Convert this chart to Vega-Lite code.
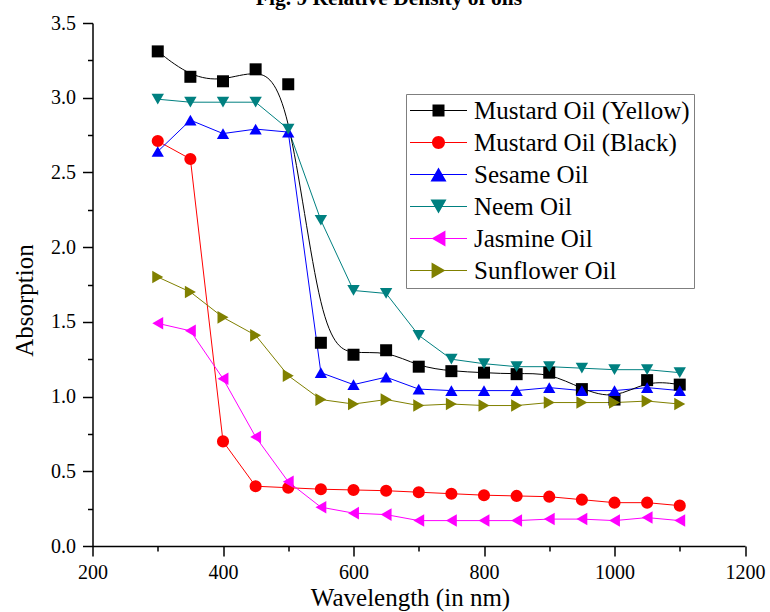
{
  "$schema": "https://vega.github.io/schema/vega-lite/v6.json",
  "width": 652.5,
  "height": 523,
  "autosize": {"type": "none"},
  "padding": {"left": 92.5, "top": 23, "right": 25, "bottom": 66},
  "background": "white",
  "title": {
    "text": "Fig. 9 Relative Density of oils",
    "font": "Liberation Serif",
    "fontSize": 21.5,
    "fontWeight": "bold",
    "color": "black",
    "anchor": "middle",
    "frame": "group",
    "dx": -29.75,
    "offset": 4
  },
  "config": {
    "view": {"stroke": null},
    "axis": {
      "domainColor": "black",
      "tickColor": "black",
      "labelColor": "black",
      "titleColor": "black",
      "labelFont": "Liberation Serif",
      "titleFont": "Liberation Serif",
      "labelFontSize": 20,
      "titleFontSize": 25,
      "titleFontWeight": "normal",
      "grid": false,
      "domainWidth": 1.5,
      "tickWidth": 1.5,
      "labelOverlap": false,
      "labelFlush": false
    },
    "legend": {
      "labelFont": "Liberation Serif",
      "labelFontSize": 25,
      "labelColor": "black",
      "labelLimit": 500,
      "padding": 4,
      "rowPadding": 6,
      "strokeColor": "#7f7f7f",
      "fillColor": "white",
      "symbolOffset": 16,
      "labelOffset": 23,
      "symbolSize": 400,
      "symbolOpacity": 1,
      "symbolStrokeWidth": 0
    }
  },
  "resolve": {"scale": {"color": "independent", "shape": "independent"}},
  "data": {
    "values": [
      {"wl": 300, "oil": "Mustard Oil (Yellow)", "v": 3.31},
      {"wl": 350, "oil": "Mustard Oil (Yellow)", "v": 3.14},
      {"wl": 400, "oil": "Mustard Oil (Yellow)", "v": 3.11},
      {"wl": 450, "oil": "Mustard Oil (Yellow)", "v": 3.19},
      {"wl": 500, "oil": "Mustard Oil (Yellow)", "v": 3.09},
      {"wl": 550, "oil": "Mustard Oil (Yellow)", "v": 1.36},
      {"wl": 600, "oil": "Mustard Oil (Yellow)", "v": 1.28},
      {"wl": 650, "oil": "Mustard Oil (Yellow)", "v": 1.31},
      {"wl": 700, "oil": "Mustard Oil (Yellow)", "v": 1.2},
      {"wl": 750, "oil": "Mustard Oil (Yellow)", "v": 1.17},
      {"wl": 800, "oil": "Mustard Oil (Yellow)", "v": 1.16},
      {"wl": 850, "oil": "Mustard Oil (Yellow)", "v": 1.15},
      {"wl": 900, "oil": "Mustard Oil (Yellow)", "v": 1.16},
      {"wl": 950, "oil": "Mustard Oil (Yellow)", "v": 1.05},
      {"wl": 1000, "oil": "Mustard Oil (Yellow)", "v": 0.98},
      {"wl": 1050, "oil": "Mustard Oil (Yellow)", "v": 1.11},
      {"wl": 1100, "oil": "Mustard Oil (Yellow)", "v": 1.08},

      {"wl": 300, "oil": "Mustard Oil (Black)", "v": 2.71},
      {"wl": 350, "oil": "Mustard Oil (Black)", "v": 2.59},
      {"wl": 400, "oil": "Mustard Oil (Black)", "v": 0.7},
      {"wl": 450, "oil": "Mustard Oil (Black)", "v": 0.4},
      {"wl": 500, "oil": "Mustard Oil (Black)", "v": 0.39},
      {"wl": 550, "oil": "Mustard Oil (Black)", "v": 0.38},
      {"wl": 600, "oil": "Mustard Oil (Black)", "v": 0.375},
      {"wl": 650, "oil": "Mustard Oil (Black)", "v": 0.37},
      {"wl": 700, "oil": "Mustard Oil (Black)", "v": 0.36},
      {"wl": 750, "oil": "Mustard Oil (Black)", "v": 0.35},
      {"wl": 800, "oil": "Mustard Oil (Black)", "v": 0.34},
      {"wl": 850, "oil": "Mustard Oil (Black)", "v": 0.335},
      {"wl": 900, "oil": "Mustard Oil (Black)", "v": 0.33},
      {"wl": 950, "oil": "Mustard Oil (Black)", "v": 0.31},
      {"wl": 1000, "oil": "Mustard Oil (Black)", "v": 0.29},
      {"wl": 1050, "oil": "Mustard Oil (Black)", "v": 0.29},
      {"wl": 1100, "oil": "Mustard Oil (Black)", "v": 0.27},

      {"wl": 300, "oil": "Sesame Oil", "v": 2.64},
      {"wl": 350, "oil": "Sesame Oil", "v": 2.85},
      {"wl": 400, "oil": "Sesame Oil", "v": 2.76},
      {"wl": 450, "oil": "Sesame Oil", "v": 2.79},
      {"wl": 500, "oil": "Sesame Oil", "v": 2.77},
      {"wl": 550, "oil": "Sesame Oil", "v": 1.16},
      {"wl": 600, "oil": "Sesame Oil", "v": 1.08},
      {"wl": 650, "oil": "Sesame Oil", "v": 1.13},
      {"wl": 700, "oil": "Sesame Oil", "v": 1.05},
      {"wl": 750, "oil": "Sesame Oil", "v": 1.04},
      {"wl": 800, "oil": "Sesame Oil", "v": 1.04},
      {"wl": 850, "oil": "Sesame Oil", "v": 1.04},
      {"wl": 900, "oil": "Sesame Oil", "v": 1.06},
      {"wl": 950, "oil": "Sesame Oil", "v": 1.04},
      {"wl": 1000, "oil": "Sesame Oil", "v": 1.04},
      {"wl": 1050, "oil": "Sesame Oil", "v": 1.06},
      {"wl": 1100, "oil": "Sesame Oil", "v": 1.04},

      {"wl": 300, "oil": "Neem Oil", "v": 2.99},
      {"wl": 350, "oil": "Neem Oil", "v": 2.97},
      {"wl": 400, "oil": "Neem Oil", "v": 2.97},
      {"wl": 450, "oil": "Neem Oil", "v": 2.97},
      {"wl": 500, "oil": "Neem Oil", "v": 2.79},
      {"wl": 550, "oil": "Neem Oil", "v": 2.18},
      {"wl": 600, "oil": "Neem Oil", "v": 1.71},
      {"wl": 650, "oil": "Neem Oil", "v": 1.69},
      {"wl": 700, "oil": "Neem Oil", "v": 1.41},
      {"wl": 750, "oil": "Neem Oil", "v": 1.25},
      {"wl": 800, "oil": "Neem Oil", "v": 1.22},
      {"wl": 850, "oil": "Neem Oil", "v": 1.2},
      {"wl": 900, "oil": "Neem Oil", "v": 1.2},
      {"wl": 950, "oil": "Neem Oil", "v": 1.19},
      {"wl": 1000, "oil": "Neem Oil", "v": 1.18},
      {"wl": 1050, "oil": "Neem Oil", "v": 1.18},
      {"wl": 1100, "oil": "Neem Oil", "v": 1.16},

      {"wl": 300, "oil": "Jasmine Oil", "v": 1.49},
      {"wl": 350, "oil": "Jasmine Oil", "v": 1.44},
      {"wl": 400, "oil": "Jasmine Oil", "v": 1.12},
      {"wl": 450, "oil": "Jasmine Oil", "v": 0.73},
      {"wl": 500, "oil": "Jasmine Oil", "v": 0.43},
      {"wl": 550, "oil": "Jasmine Oil", "v": 0.26},
      {"wl": 600, "oil": "Jasmine Oil", "v": 0.22},
      {"wl": 650, "oil": "Jasmine Oil", "v": 0.21},
      {"wl": 700, "oil": "Jasmine Oil", "v": 0.17},
      {"wl": 750, "oil": "Jasmine Oil", "v": 0.17},
      {"wl": 800, "oil": "Jasmine Oil", "v": 0.17},
      {"wl": 850, "oil": "Jasmine Oil", "v": 0.17},
      {"wl": 900, "oil": "Jasmine Oil", "v": 0.18},
      {"wl": 950, "oil": "Jasmine Oil", "v": 0.18},
      {"wl": 1000, "oil": "Jasmine Oil", "v": 0.17},
      {"wl": 1050, "oil": "Jasmine Oil", "v": 0.19},
      {"wl": 1100, "oil": "Jasmine Oil", "v": 0.17},

      {"wl": 300, "oil": "Sunflower Oil", "v": 1.8},
      {"wl": 350, "oil": "Sunflower Oil", "v": 1.7},
      {"wl": 400, "oil": "Sunflower Oil", "v": 1.53},
      {"wl": 450, "oil": "Sunflower Oil", "v": 1.41},
      {"wl": 500, "oil": "Sunflower Oil", "v": 1.14},
      {"wl": 550, "oil": "Sunflower Oil", "v": 0.98},
      {"wl": 600, "oil": "Sunflower Oil", "v": 0.95},
      {"wl": 650, "oil": "Sunflower Oil", "v": 0.98},
      {"wl": 700, "oil": "Sunflower Oil", "v": 0.94},
      {"wl": 750, "oil": "Sunflower Oil", "v": 0.95},
      {"wl": 800, "oil": "Sunflower Oil", "v": 0.94},
      {"wl": 850, "oil": "Sunflower Oil", "v": 0.94},
      {"wl": 900, "oil": "Sunflower Oil", "v": 0.96},
      {"wl": 950, "oil": "Sunflower Oil", "v": 0.96},
      {"wl": 1000, "oil": "Sunflower Oil", "v": 0.96},
      {"wl": 1050, "oil": "Sunflower Oil", "v": 0.97},
      {"wl": 1100, "oil": "Sunflower Oil", "v": 0.95}
    ]
  },
  "encoding": {
    "x": {
      "field": "wl",
      "type": "quantitative",
      "scale": {"domain": [200, 1200], "nice": false, "zero": false},
      "axis": {
        "title": "Wavelength (in nm)",
        "values": [200, 300, 400, 500, 600, 700, 800, 900, 1000, 1100, 1200],
        "format": "d",
        "labelExpr": "datum.value % 200 === 0 ? datum.label : ''",
        "tickSize": {"condition": {"test": "datum.value % 200 === 0", "value": 10}, "value": 5},
        "labelPadding": 6,
        "titleX": 317.5,
        "titleY": 59,
        "titleBaseline": "alphabetic",
        "titleAnchor": "middle"
      }
    },
    "y": {
      "field": "v",
      "type": "quantitative",
      "scale": {"domain": [0, 3.5], "nice": false, "zero": false},
      "axis": {
        "title": "Absorption",
        "values": [0, 0.25, 0.5, 0.75, 1, 1.25, 1.5, 1.75, 2, 2.25, 2.5, 2.75, 3, 3.25, 3.5],
        "format": ".1f",
        "labelExpr": "abs(datum.value * 2 - round(datum.value * 2)) < 0.001 ? datum.label : ''",
        "tickSize": {"condition": {"test": "abs(datum.value * 2 - round(datum.value * 2)) < 0.001", "value": 10}, "value": 5},
        "labelPadding": 7,
        "titleX": -60.5,
        "titleY": 277,
        "titleBaseline": "alphabetic",
        "titleAnchor": "middle"
      }
    }
  },
  "layer": [
    {
      "transform": [{"filter": "datum.oil !== 'Mustard Oil (Yellow)'"}],
      "mark": {"type": "line", "strokeWidth": 1, "interpolate": "linear"},
      "encoding": {
        "color": {
          "field": "oil",
          "type": "nominal",
          "scale": {
            "domain": ["Mustard Oil (Yellow)", "Mustard Oil (Black)", "Sesame Oil", "Neem Oil", "Jasmine Oil", "Sunflower Oil"],
            "range": ["#000000", "#ff0000", "#0000ff", "#008080", "#ff00ff", "#808000"]
          },
          "legend": null
        }
      }
    },
    {
      "transform": [{"filter": "datum.oil === 'Mustard Oil (Yellow)'"}],
      "mark": {"type": "line", "strokeWidth": 1, "interpolate": "basis"},
      "encoding": {
        "color": {
          "field": "oil",
          "type": "nominal",
          "scale": {
            "domain": ["Mustard Oil (Yellow)", "Mustard Oil (Black)", "Sesame Oil", "Neem Oil", "Jasmine Oil", "Sunflower Oil"],
            "range": ["#000000", "#ff0000", "#0000ff", "#008080", "#ff00ff", "#808000"]
          },
          "legend": null
        }
      }
    },
    {
      "mark": {"type": "point", "filled": true, "opacity": 1},
      "encoding": {
        "color": {
          "field": "oil",
          "type": "nominal",
          "scale": {
            "domain": ["Mustard Oil (Yellow)", "Mustard Oil (Black)", "Sesame Oil", "Neem Oil", "Jasmine Oil", "Sunflower Oil"],
            "range": ["#000000", "#ff0000", "#0000ff", "#008080", "#ff00ff", "#808000"]
          },
          "legend": null
        },
        "shape": {
          "field": "oil",
          "type": "nominal",
          "scale": {
            "domain": ["Mustard Oil (Yellow)", "Mustard Oil (Black)", "Sesame Oil", "Neem Oil", "Jasmine Oil", "Sunflower Oil"],
            "range": ["square", "circle", "triangle-up", "triangle-down", "triangle-left", "triangle-right"]
          },
          "legend": null
        },
        "size": {
          "field": "oil",
          "type": "nominal",
          "scale": {
            "domain": ["Mustard Oil (Yellow)", "Mustard Oil (Black)", "Sesame Oil", "Neem Oil", "Jasmine Oil", "Sunflower Oil"],
            "range": [144, 160, 256, 256, 256, 256]
          },
          "legend": null
        }
      }
    },
    {
      "mark": {"type": "point", "filled": true, "opacity": 0},
      "encoding": {
        "color": {
          "field": "oil",
          "type": "nominal",
          "scale": {
            "domain": ["Mustard Oil (Yellow)", "Mustard Oil (Black)", "Sesame Oil", "Neem Oil", "Jasmine Oil", "Sunflower Oil"],
            "range": ["#000000", "#ff0000", "#0000ff", "#008080", "#ff00ff", "#808000"]
          },
          "legend": {
            "title": null,
            "orient": "none",
            "legendX": 313.5,
            "legendY": 71,
            "symbolSize": 400,
            "symbolOpacity": 1
          }
        },
        "shape": {
          "field": "oil",
          "type": "nominal",
          "scale": {
            "domain": ["Mustard Oil (Yellow)", "Mustard Oil (Black)", "Sesame Oil", "Neem Oil", "Jasmine Oil", "Sunflower Oil"],
            "range": [
              "M-2.85,-0.05H2.85V0.05H-2.85ZM-0.6,-0.6H0.6V0.6H-0.6Z",
              "M-2.85,-0.05H2.85V0.05H-2.85ZM-0.65,0A0.65,0.65,0,1,1,0.65,0A0.65,0.65,0,1,1,-0.65,0Z",
              "M-2.85,-0.05H2.85V0.05H-2.85ZM0,-0.693L0.8,0.693L-0.8,0.693Z",
              "M-2.85,-0.05H2.85V0.05H-2.85ZM0,0.693L-0.8,-0.693L0.8,-0.693Z",
              "M-2.85,-0.05H2.85V0.05H-2.85ZM-0.693,0L0.693,-0.8L0.693,0.8Z",
              "M-2.85,-0.05H2.85V0.05H-2.85ZM0.693,0L-0.693,0.8L-0.693,-0.8Z"
            ]
          },
          "legend": {
            "title": null,
            "orient": "none",
            "legendX": 313.5,
            "legendY": 71,
            "symbolSize": 400,
            "symbolOpacity": 1
          }
        }
      }
    }
  ]
}
